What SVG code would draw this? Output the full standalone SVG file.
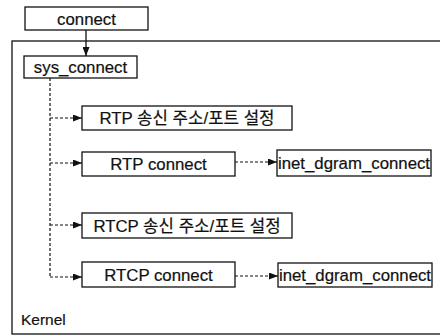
<svg xmlns="http://www.w3.org/2000/svg" width="440" height="336" viewBox="0 0 440 336">
  <defs>
    <style>
      .box { fill: #fff; stroke: #111; stroke-width: 1.3; }
      .lbl { font-family: "Liberation Sans", "Noto Sans CJK KR", sans-serif; font-size: 16.8px; fill: #111; stroke: #111; stroke-width: 0.2; text-anchor: middle; }
      .dash { fill: none; stroke: #111; stroke-width: 1.2; stroke-dasharray: 3 2; }
      .solid { fill: none; stroke: #111; stroke-width: 1.3; }
    </style>
    <marker id="arrow" markerWidth="9" markerHeight="7" refX="9" refY="3.5" orient="auto" markerUnits="userSpaceOnUse">
      <path d="M0,0 L9,3.5 L0,7 Z" fill="#111"/>
    </marker>
  </defs>

  <rect width="440" height="336" fill="#fff"/>

  <!-- kernel region -->
  <g id="kernel">
    <rect x="12" y="41" width="440" height="293" fill="none" stroke="#111" stroke-width="1.3"/>
    <text x="21" y="325" font-family="Liberation Sans, sans-serif" font-size="15.5" fill="#111" stroke="#111" stroke-width="0.2">Kernel</text>
  </g>

  <g id="connect">
    <rect class="box" x="25" y="7" width="123" height="23"/>
    <text class="lbl" x="86.5" y="24.5">connect</text>
  </g>

  <g id="sys_connect">
    <rect class="box" x="24" y="56" width="113" height="22"/>
    <text class="lbl" x="80.5" y="73">sys_connect</text>
  </g>

  <g id="rtp_addr">
    <rect class="box" x="82" y="106" width="210" height="24"/>
    <text class="lbl" x="187" y="124">RTP 송신 주소/포트 설정</text>
  </g>

  <g id="rtp_connect">
    <rect class="box" x="82" y="152" width="153" height="24"/>
    <text class="lbl" x="158.5" y="170">RTP connect</text>
  </g>

  <g id="rtp_inet">
    <rect class="box" x="277" y="150" width="154" height="26"/>
    <text class="lbl" x="354" y="169">inet_dgram_connect</text>
  </g>

  <g id="rtcp_addr">
    <rect class="box" x="82" y="213" width="210" height="25"/>
    <text class="lbl" x="187" y="231.5">RTCP 송신 주소/포트 설정</text>
  </g>

  <g id="rtcp_connect">
    <rect class="box" x="82" y="262" width="153" height="25"/>
    <text class="lbl" x="158.5" y="280.5">RTCP connect</text>
  </g>

  <g id="rtcp_inet">
    <rect class="box" x="278" y="263" width="154" height="24"/>
    <text class="lbl" x="355" y="281">inet_dgram_connect</text>
  </g>

  <!-- connectors -->
  <g id="connectors">
    <line class="solid" x1="86" y1="30" x2="86" y2="56" marker-end="url(#arrow)"/>
    <path class="dash" d="M50,78 V277"/>
    <path class="dash" d="M50,118 H82" marker-end="url(#arrow)"/>
    <path class="dash" d="M50,163 H82" marker-end="url(#arrow)"/>
    <path class="dash" d="M50,225 H82" marker-end="url(#arrow)"/>
    <path class="dash" d="M50,277 H82" marker-end="url(#arrow)"/>
    <path class="dash" d="M235,162 H277" marker-end="url(#arrow)"/>
    <path class="dash" d="M235,276 H278" marker-end="url(#arrow)"/>
  </g>
</svg>
